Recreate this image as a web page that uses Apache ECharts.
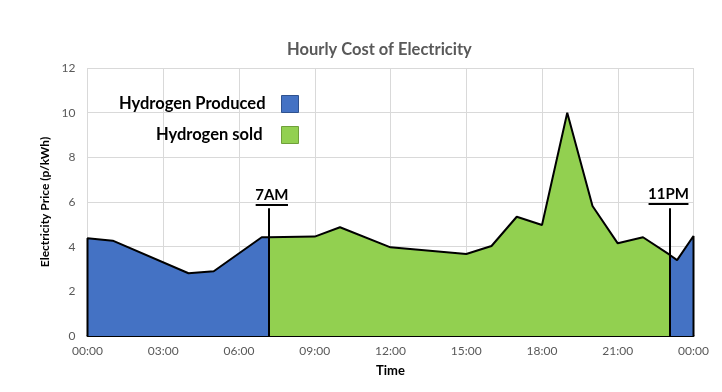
<!DOCTYPE html>
<html>
<head>
<meta charset="utf-8">
<script src="https://cdn.jsdelivr.net/npm/echarts@6/dist/echarts.min.js"></script>
<style>html,body{margin:0;padding:0;background:#fff}#c{width:722px;height:392px}</style>
</head>
<body>
<div id="c"></div>
<script>
// ---- data (hours of day, price p/kWh) ----
var producedMorningHours = [0, 0, 1, 4, 5, 6.9, 7.16];
var producedMorningPrice = [0, 4.38, 4.27, 2.81, 2.90, 4.42, 4.42];
var soldHours = [7.16, 9, 10, 12, 15, 16, 17, 18, 19, 20, 21, 22, 23.05];
var soldPrice = [4.42, 4.45, 4.87, 3.97, 3.67, 4.03, 5.34, 4.97, 10.0, 5.82, 4.15, 4.42, 3.64];
var producedNightHours = [23.05, 23.35, 24, 24];
var producedNightPrice = [3.64, 3.40, 4.48, 0];
var xTicks = ['00:00', '03:00', '06:00', '09:00', '12:00', '15:00', '18:00', '21:00', '00:00'];
var markers = [{label: '7AM', hour: 7.16}, {label: '11PM', hour: 23.05}];

function pairs(h, v) { return h.map(function (x, i) { return [x, v[i]]; }); }

var BLUE = '#4472C4', GREEN = '#92D050';
var FONT = 'Lato';

function areaSeries(name, color, data, extra) {
  var s = {
    name: name, type: 'line', data: data, showSymbol: false, symbol: 'none',
    color: color,
    itemStyle: {color: color},
    lineStyle: {color: '#000', width: 2},
    areaStyle: {color: color, opacity: 1},
    z: 2
  };
  for (var k in extra) s[k] = extra[k];
  return s;
}

var markLineData = [
  [{coord: [markers[0].hour, 0]}, {coord: [markers[0].hour, 5.72]}],
  [{coord: [markers[1].hour, 0]}, {coord: [markers[1].hour, 5.72]}],
  [{coord: [6.66, 5.87], label: {show: true, formatter: markers[0].label}}, {coord: [7.94, 5.87]}],
  [{coord: [22.22, 5.94], label: {show: true, formatter: markers[1].label}}, {coord: [23.8, 5.94]}]
];

var chart = echarts.init(document.getElementById('c'), null, {renderer: 'canvas'});
chart.setOption({
  animation: false,
  backgroundColor: '#fff',
  title: {
    text: 'Hourly Cost of Electricity', left: 282, top: 36,
    textStyle: {fontFamily: FONT, fontSize: 16.5, fontWeight: 'bold', color: '#595959'}
  },
  legend: [
    {
      data: ['Hydrogen Produced'], right: 423, top: 95, padding: 0, align: 'right',
      icon: 'rect', itemWidth: 17, itemHeight: 17,
      itemStyle: {borderColor: '#2F528F', borderWidth: 1},
      textStyle: {fontFamily: FONT, fontSize: 16.5, fontWeight: 'bold', color: '#000', padding: [0, 11, 0, 0]}
    },
    {
      data: ['Hydrogen sold'], right: 423, top: 126, padding: 0, align: 'right',
      icon: 'rect', itemWidth: 17, itemHeight: 17,
      itemStyle: {borderColor: '#6FA03A', borderWidth: 1},
      textStyle: {fontFamily: FONT, fontSize: 16.5, fontWeight: 'bold', color: '#000', padding: [0, 14, 0, 0]}
    }
  ],
  grid: {left: 87.5, right: 28.5, top: 68, bottom: 56, containLabel: false},
  xAxis: {
    type: 'value', min: 0, max: 24, interval: 3,
    name: 'Time', nameLocation: 'middle', nameGap: 28,
    nameTextStyle: {fontFamily: FONT, fontSize: 13, fontWeight: 'bold', color: '#000'},
    axisLine: {show: true, onZero: false, lineStyle: {color: '#000', width: 2}},
    axisTick: {show: false},
    axisLabel: {
      fontFamily: FONT, fontSize: 12, color: '#595959', margin: 9,
      formatter: function (v) { return xTicks[Math.round(v / 3)]; }
    },
    splitLine: {show: true, lineStyle: {color: '#D9D9D9', width: 1}}
  },
  yAxis: {
    type: 'value', min: 0, max: 12, interval: 2,
    name: 'Electricity Price (p/kWh)', nameLocation: 'middle', nameGap: 29,
    nameTextStyle: {fontFamily: FONT, fontSize: 12, fontWeight: 'bold', color: '#000'},
    axisLine: {show: false}, axisTick: {show: false},
    axisLabel: {fontFamily: FONT, fontSize: 12, color: '#595959', margin: 12},
    splitLine: {show: true, lineStyle: {color: '#D9D9D9', width: 1}}
  },
  series: [
    areaSeries('Hydrogen Produced', BLUE, pairs(producedMorningHours, producedMorningPrice)),
    areaSeries('Hydrogen sold', GREEN, pairs(soldHours, soldPrice), {
      markLine: {
        silent: true, symbol: ['none', 'none'], animation: false,
        lineStyle: {color: '#000', width: 2, type: 'solid'},
        label: {
          show: false, position: 'insideMiddleTop', distance: 2,
          fontFamily: FONT, fontSize: 15, fontWeight: 'bold', color: '#000'
        },
        emphasis: {disabled: true},
        data: markLineData
      }
    }),
    areaSeries('Hydrogen Produced', BLUE, pairs(producedNightHours, producedNightPrice))
  ]
});
</script>
</body>
</html>
